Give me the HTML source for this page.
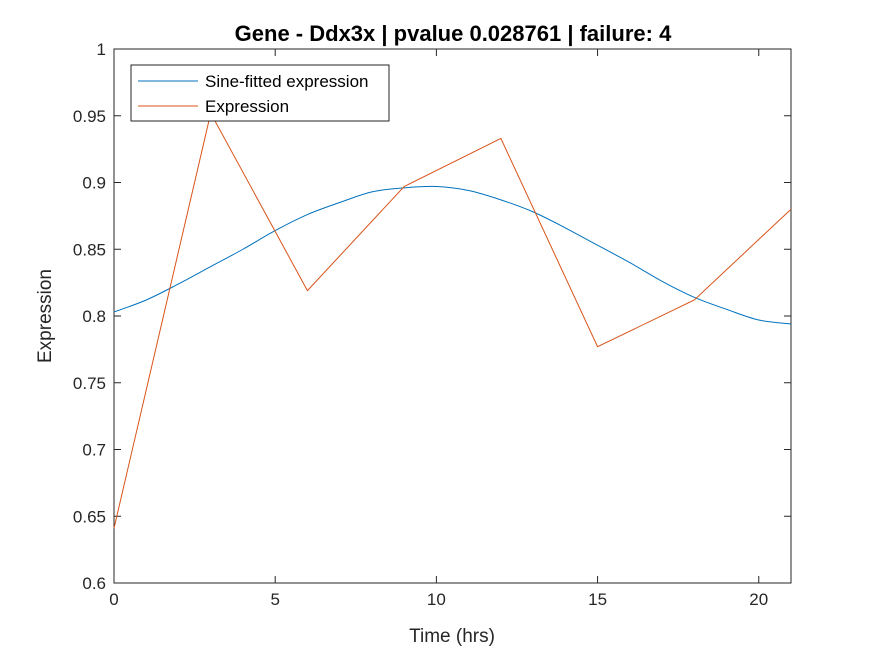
<!DOCTYPE html>
<html><head><meta charset="utf-8"><style>
body{margin:0;background:#fff;}
svg text{font-family:"Liberation Sans",Arial,sans-serif;}
</style></head><body>
<svg id="chart" width="875" height="656" xmlns="http://www.w3.org/2000/svg">
<rect width="875" height="656" fill="#fff"/>
<g id="axes"></g>
<g id="series"></g>
<text x="453" y="41" text-anchor="middle" font-size="22" font-weight="bold" fill="#000">Gene - Ddx3x | pvalue 0.028761 | failure: 4</text>
<text x="452" y="642" text-anchor="middle" font-size="19" fill="#262626">Time (hrs)</text>
<text transform="translate(51,316) rotate(-90)" text-anchor="middle" font-size="19" fill="#262626">Expression</text>
<g>
<rect x="131" y="65" width="258" height="56" fill="#fff" stroke="#262626" stroke-width="1"/>
<line x1="138" y1="81" x2="198" y2="81" stroke="#0072BD" stroke-width="1"/>
<text x="205" y="87" font-size="17" fill="#000">Sine-fitted expression</text>
<line x1="138" y1="106" x2="198" y2="106" stroke="#D95319" stroke-width="1"/>
<text x="205" y="112" font-size="17" fill="#000">Expression</text>
</g>
</svg>
<script>
const xTicks=[0,5,10,15,20];
const yTicks=[0.6,0.65,0.7,0.75,0.8,0.85,0.9,0.95,1];
const yTickLabels=["0.6","0.65","0.7","0.75","0.8","0.85","0.9","0.95","1"];
const exprTimes=[0,3,6,9,12,15,18,21];
const exprValues=[0.641,0.952,0.819,0.897,0.933,0.777,0.812,0.880];
const fitTimes=[0,1,2,3,4,5,6,7,8,9,10,11,12,13,14,15,16,17,18,19,20,21];
const fitValues=[0.803,0.812,0.824,0.837,0.850,0.864,0.876,0.885,0.893,0.896,0.897,0.894,0.887,0.878,0.866,0.853,0.840,0.826,0.814,0.805,0.797,0.794];
const L=114,R=791,T=49,B=583,xMin=0,xMax=21,yMin=0.6,yMax=1;
const sx=v=>L+(v-xMin)/(xMax-xMin)*(R-L);
const sy=v=>B-(v-yMin)/(yMax-yMin)*(B-T);
const NS="http://www.w3.org/2000/svg";
function mk(t,a){const e=document.createElementNS(NS,t);for(const k in a)e.setAttribute(k,a[k]);return e;}
const ax=document.getElementById('axes');
const frame=mk('rect',{x:L,y:T,width:R-L,height:B-T,fill:'none',stroke:'#262626','stroke-width':1});


ax.appendChild(frame);
xTicks.forEach(v=>{
 const x=sx(v);
 const t1=mk('line',{x1:x,y1:B,x2:x,y2:B-7,stroke:'#262626'});
 
 
 ax.appendChild(t1);
 const t2=mk('line',{x1:x,y1:T,x2:x,y2:T+7,stroke:'#262626'});
 
 
 ax.appendChild(t2);
 const tx=mk('text',{x:x,y:B+22,'text-anchor':'middle','font-size':17,fill:'#262626'});
 
 
 tx.textContent=String(v);ax.appendChild(tx);
});
yTicks.forEach((v,i)=>{
 const y=sy(v);
 const t1=mk('line',{x1:L,y1:y,x2:L+7,y2:y,stroke:'#262626'});
 
 
 ax.appendChild(t1);
 const t2=mk('line',{x1:R,y1:y,x2:R-7,y2:y,stroke:'#262626'});
 
 
 ax.appendChild(t2);
 const tx=mk('text',{x:L-8,y:y+6,'text-anchor':'end','font-size':17,fill:'#262626'});
 
 
 tx.textContent=yTickLabels[i];ax.appendChild(tx);
});
const se=document.getElementById('series');
// smooth path through fit points (Catmull-Rom)
const P=fitTimes.map((t,i)=>[sx(t),sy(fitValues[i])]);
let d='M'+P[0][0]+','+P[0][1];
for(let i=0;i<P.length-1;i++){
 const p0=P[Math.max(0,i-1)],p1=P[i],p2=P[i+1],p3=P[Math.min(P.length-1,i+2)];
 const c1=[p1[0]+(p2[0]-p0[0])/6,p1[1]+(p2[1]-p0[1])/6];
 const c2=[p2[0]-(p3[0]-p1[0])/6,p2[1]-(p3[1]-p1[1])/6];
 d+=' C'+c1[0]+','+c1[1]+' '+c2[0]+','+c2[1]+' '+p2[0]+','+p2[1];
}
const fit=mk('path',{d:d,fill:'none',stroke:'#0072BD','stroke-width':1});


se.appendChild(fit);
const ex=mk('polyline',{points:exprTimes.map((t,i)=>sx(t)+','+sy(exprValues[i])).join(' '),fill:'none',stroke:'#D95319','stroke-width':1});


se.appendChild(ex);
</script>
</body></html>
